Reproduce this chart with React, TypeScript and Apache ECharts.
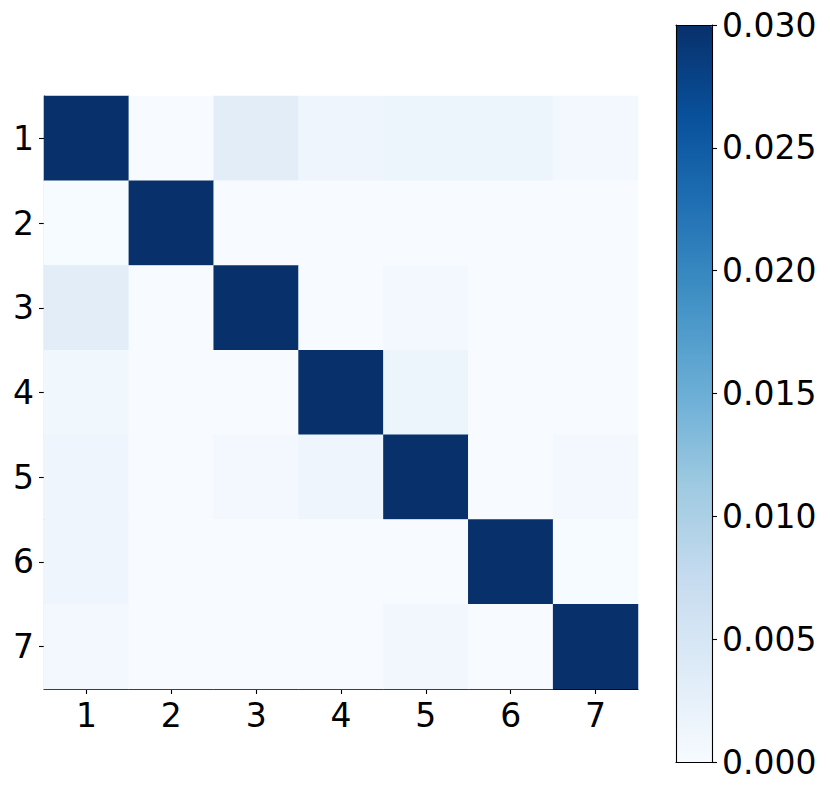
import React, { useEffect, useRef } from "react";
import * as echarts from "echarts";

const categories = ["1", "2", "3", "4", "5", "6", "7"];
// rows top->bottom, columns left->right
const row1 = [0.03, 0.0, 0.0032, 0.0013, 0.0015, 0.0015, 0.0007];
const row2 = [0.0001, 0.03, 0.0, 0.0, 0.0, 0.0, 0.0];
const row3 = [0.0032, 0.0, 0.03, 0.0, 0.0007, 0.0, 0.0];
const row4 = [0.001, 0.0, 0.0, 0.03, 0.0015, 0.0, 0.0];
const row5 = [0.0014, 0.0, 0.0006, 0.0013, 0.03, 0.0, 0.0006];
const row6 = [0.0013, 0.0, 0.0, 0.0, 0.0, 0.03, 0.0001];
const row7 = [0.0007, 0.0, 0.0, 0.0, 0.0009, 0.0, 0.03];
const rows = [row1, row2, row3, row4, row5, row6, row7];

const vMin = 0;
const vMax = 0.03;
const cbInterval = 0.005;

const blues = [
  "#f7fbff",
  "#deebf7",
  "#c6dbef",
  "#9ecae1",
  "#6baed6",
  "#4292c6",
  "#2171b5",
  "#08519c",
  "#08306b",
];

const FONT = "DejaVu Sans";

export default function App() {
  const ref = useRef<HTMLDivElement>(null);
  useEffect(() => {
    if (!ref.current) return;
    const chart = echarts.init(ref.current, undefined, { renderer: "svg" });
    const data: [number, number, number][] = [];
    rows.forEach((r, ri) => r.forEach((v, ci) => data.push([ci, ri, v])));
    const axisLine = { show: true, onZero: false, lineStyle: { color: "#000", width: 1.1 } };
    const axisTick = { show: true, inside: false, length: 5, lineStyle: { color: "#000", width: 1.1 } };
    const label = { color: "#000", fontSize: 33, fontFamily: FONT, margin: 10 };
    const frameAxis = {
      show: true,
      z: 10,
      axisLine,
      axisTick: { show: false },
      axisLabel: { show: false },
      splitLine: { show: false },
    };
    chart.setOption({
      animation: false,
      backgroundColor: "#fff",
      grid: [
        { left: 44, top: 96, width: 594, height: 593, show: false },
        { left: 676, top: 25, width: 36, height: 737, show: false },
      ],
      xAxis: [
        {
          type: "category",
          gridIndex: 0,
          data: categories,
          axisLine,
          axisTick: { ...axisTick, alignWithLabel: true },
          axisLabel: label,
          splitLine: { show: false },
        },
        { ...frameAxis, type: "value", gridIndex: 1, position: "bottom", min: 0, max: 1 },
        { ...frameAxis, type: "value", gridIndex: 1, position: "top", min: 0, max: 1 },
      ],
      yAxis: [
        {
          type: "category",
          gridIndex: 0,
          data: categories,
          inverse: true,
          axisLine,
          axisTick: { ...axisTick, alignWithLabel: true },
          axisLabel: label,
          splitLine: { show: false },
        },
        {
          type: "value",
          gridIndex: 1,
          position: "right",
          z: 10,
          min: vMin,
          max: vMax,
          interval: cbInterval,
          axisLine,
          axisTick,
          axisLabel: { ...label, formatter: (v: number) => v.toFixed(3) },
          splitLine: { show: false },
        },
        { ...frameAxis, type: "value", gridIndex: 1, position: "left", min: vMin, max: vMax },
      ],
      visualMap: {
        type: "continuous",
        seriesIndex: 0,
        min: vMin,
        max: vMax,
        calculable: false,
        orient: "vertical",
        left: 676,
        top: 25,
        itemWidth: 36,
        itemHeight: 737,
        padding: 0,
        text: null,
        showLabel: false,
        hoverLink: false,
        inRange: { color: blues },
      },
      series: [
        {
          type: "heatmap",
          xAxisIndex: 0,
          yAxisIndex: 0,
          data,
          itemStyle: { borderWidth: 0 },
          emphasis: { disabled: true },
        },
        {
          type: "scatter",
          xAxisIndex: 1,
          yAxisIndex: 1,
          data: [],
        },
        {
          type: "scatter",
          xAxisIndex: 2,
          yAxisIndex: 2,
          data: [],
        },
      ],
    });
    return () => chart.dispose();
  }, []);
  return (
    <div
      ref={ref}
      style={{ position: "absolute", left: 0, top: 0, width: 830, height: 793 }}
    />
  );
}
